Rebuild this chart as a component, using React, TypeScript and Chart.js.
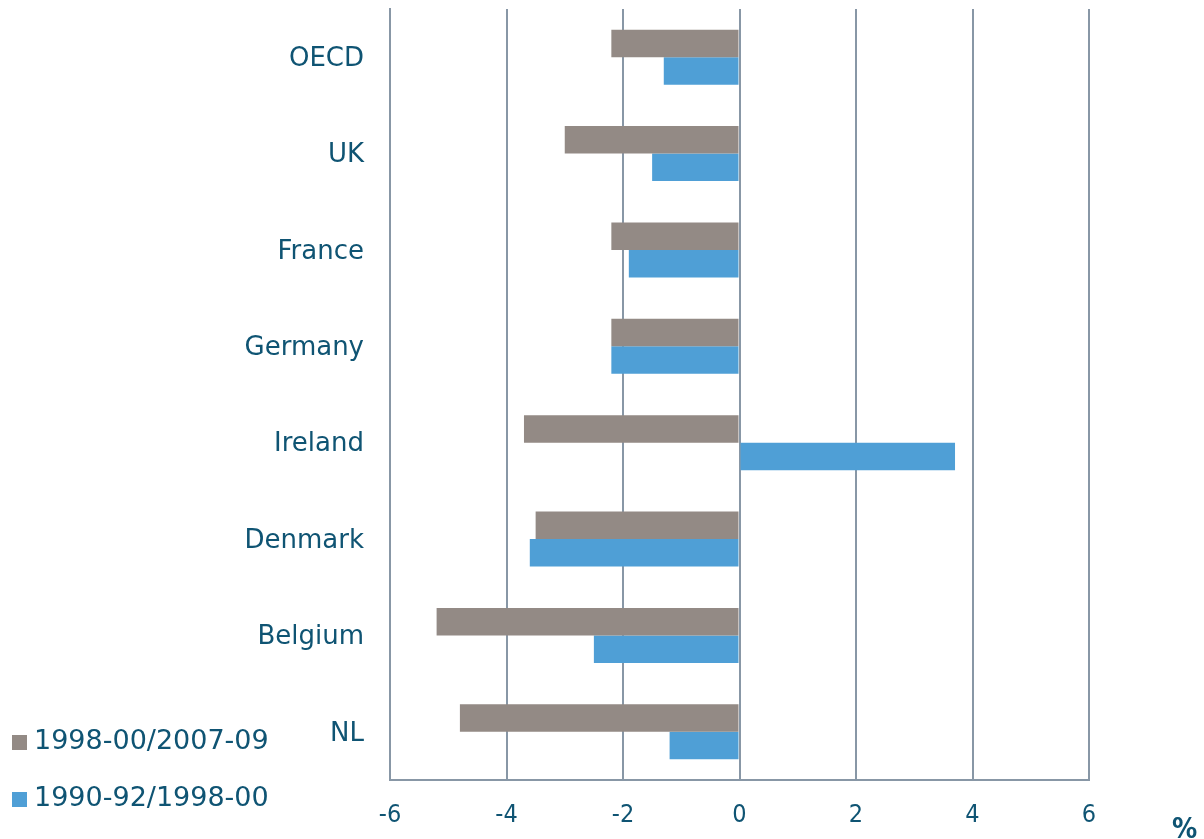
import React, { useEffect, useRef } from "react";
import { Chart, registerables } from "chart.js";

Chart.register(...registerables);

const categories = ["OECD", "UK", "France", "Germany", "Ireland", "Denmark", "Belgium", "NL"];
const seriesNames = ["1998-00/2007-09", "1990-92/1998-00"];
const series1998 = [-2.2, -3.0, -2.2, -2.2, -3.7, -3.5, -5.2, -4.8];
const series1990 = [-1.3, -1.5, -1.9, -2.2, 3.7, -3.6, -2.5, -1.2];
const xTicks = [-6, -4, -2, 0, 2, 4, 6];
const unitLabel = "%";

const GRAY = "#938a85";
const BLUE = "#4f9fd6";
const TEXT = "#0f5473";
const GRID = "#8897a6";

const legendPlugin = {
  id: "customLegend",
  afterDraw(chart: any) {
    const ctx = chart.ctx;
    ctx.save();
    const items = [
      { label: seriesNames[0], color: GRAY, y: 742 },
      { label: seriesNames[1], color: BLUE, y: 799 },
    ];
    ctx.font = "27px 'DejaVu Sans'";
    ctx.textBaseline = "middle";
    ctx.textAlign = "left";
    for (const it of items) {
      ctx.fillStyle = it.color;
      ctx.fillRect(12, it.y - 7, 15, 15);
      ctx.fillStyle = TEXT;
      ctx.fillText(it.label, 34, it.y);
    }
    ctx.font = "bold 28px 'DejaVu Sans Condensed'";
    ctx.textBaseline = "alphabetic";
    ctx.fillText(unitLabel, 1172, 838);
    ctx.restore();
  },
};

export default function App() {
  const ref = useRef<HTMLCanvasElement>(null);
  useEffect(() => {
    if (!ref.current) return;
    const chart = new Chart(ref.current, {
      type: "bar",
      data: {
        labels: categories,
        datasets: [
          { label: seriesNames[0], data: series1998, backgroundColor: GRAY, borderWidth: 0 },
          { label: seriesNames[1], data: series1990, backgroundColor: BLUE, borderWidth: 0 },
        ],
      },
      plugins: [legendPlugin],
      options: {
        indexAxis: "y",
        animation: false,
        responsive: true,
        maintainAspectRatio: false,
        layout: { padding: { top: 9, right: 115, left: 0, bottom: 0 } },
        datasets: { bar: { categoryPercentage: 0.57, barPercentage: 1 } },
        plugins: { legend: { display: false }, tooltip: { enabled: false } },
        scales: {
          x: {
            type: "linear",
            min: -6,
            max: 6,
            afterBuildTicks: (scale: any) => {
              scale.ticks = xTicks.map((v) => ({ value: v }));
            },
            afterFit: (scale: any) => {
              scale.height = 59;
              scale.paddingLeft = 0;
              scale.paddingRight = 0;
            },
            grid: { color: GRID, lineWidth: 2, drawTicks: false },
            border: { display: true, color: GRID, width: 2 },
            ticks: {
              color: TEXT,
              padding: 20,
              font: { family: "'Liberation Sans Narrow', 'DejaVu Sans Condensed'", size: 25 },
            },
          },
          y: {
            afterFit: (scale: any) => {
              scale.width = 390;
              scale.paddingTop = 0;
              scale.paddingBottom = 0;
            },
            grid: { display: false, drawTicks: false },
            border: { display: true, color: GRID, width: 2 },
            ticks: {
              color: TEXT,
              padding: 26,
              labelOffset: 2,
              font: { family: "'DejaVu Sans'", size: 26 },
            },
          },
        },
      },
    });
    return () => chart.destroy();
  }, []);
  return (
    <div style={{ position: "absolute", left: 0, top: 0, width: 1204, height: 839, background: "#fff" }}>
      <canvas ref={ref} />
    </div>
  );
}
